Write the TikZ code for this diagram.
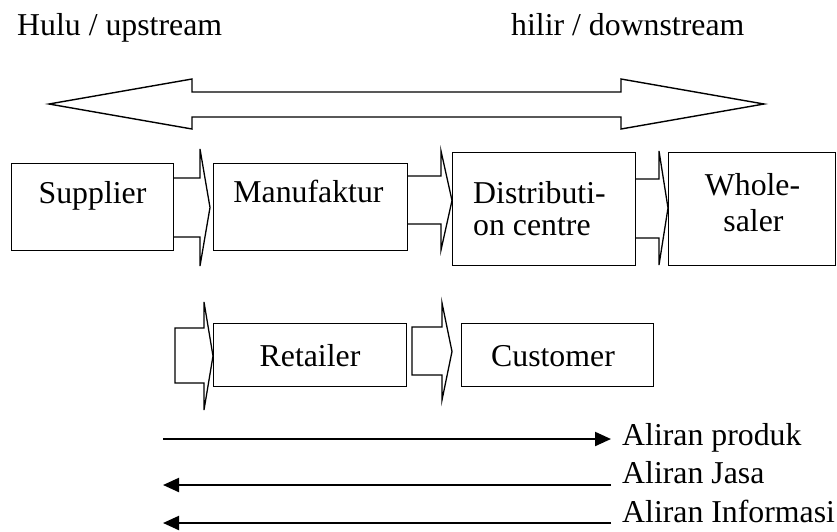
\documentclass[tikz,border=0pt]{standalone}
\usepackage{fontspec}
\setmainfont{Liberation Serif}
\usetikzlibrary{arrows.meta}
\tikzset{
  lbl/.style={inner sep=0pt, font=\fontsize{31.8}{36}\selectfont},
  boxshape/.style={draw, line width=1.3pt, fill=white, inner sep=0pt},
  blockarrow/.style={draw, line width=1.3pt, fill=white, line join=miter},
  flow/.style={line width=2.1pt, -{Triangle[length=16pt,width=14pt]}},
}
\begin{document}
\begin{tikzpicture}[x=1pt,y=-1pt]
\useasboundingbox (0,0) rectangle (837,531);
% headers
\node[lbl, anchor=base west] (hulu) at (17,35) {Hulu / upstream};
\node[lbl, anchor=base west] (hilir) at (511,35) {hilir / downstream};
% big double arrow
\draw[blockarrow, line width=1.4pt] (49,104) -- (192,79) -- (192,92) -- (621,92) -- (621,79) -- (764,104)
  -- (621,129) -- (621,117) -- (192,117) -- (192,129) -- cycle;
% block arrows
\draw[blockarrow] (173,178) -- (200,178) -- (200,149) -- (210,207.5) -- (200,266) -- (200,237) -- (173,237) -- cycle;
\draw[blockarrow] (407,176) -- (441,176) -- (441,151) -- (452,200.5) -- (441,250) -- (441,224) -- (407,224) -- cycle;
\draw[blockarrow] (635,179) -- (659,179) -- (659,151) -- (668,208) -- (659,265) -- (659,238) -- (635,238) -- cycle;
\draw[blockarrow] (175,328) -- (204,328) -- (204,302) -- (213,356) -- (204,410) -- (204,383) -- (175,383) -- cycle;
\draw[blockarrow] (412,327) -- (442,327) -- (442,303) -- (452,351.5) -- (442,400) -- (442,375) -- (412,375) -- cycle;
% boxes
\node[boxshape, anchor=north west, minimum width=162pt, minimum height=87pt] (sup) at (11,163) {};
\node[boxshape, anchor=north west, minimum width=194pt, minimum height=87pt] (manu) at (213,163) {};
\node[boxshape, anchor=north west, minimum width=183pt, minimum height=113pt] (dist) at (452,152) {};
\node[boxshape, anchor=north west, minimum width=167pt, minimum height=113pt] (whole) at (668,152) {};
\node[boxshape, anchor=north west, minimum width=193pt, minimum height=63pt] (ret) at (213,323) {};
\node[boxshape, anchor=north west, minimum width=192pt, minimum height=63pt] (cust) at (461,323) {};
% box texts
\node[lbl, anchor=base] (tsup) at (92.5,203) {Supplier};
\node[lbl, anchor=base] (tmanu) at (308.5,202) {Manufaktur};
\node[lbl, anchor=base west] (tdist1) at (473,203) {Distributi-};
\node[lbl, anchor=base west] (tdist2) at (473,235) {on centre};
\node[lbl, anchor=base] (twhole1) at (752.5,195) {Whole-};
\node[lbl, anchor=base] (twhole2) at (753.5,231) {saler};
\node[lbl, anchor=base] (tret) at (310,366) {Retailer};
\node[lbl, anchor=base] (tcust) at (553,366) {Customer};
% flows
\node[lbl, anchor=base west] (fprod) at (622,445) {Aliran produk};
\node[lbl, anchor=base west] (fjasa) at (622,483) {Aliran Jasa};
\node[lbl, anchor=base west] (finfo) at (622,522) {Aliran Informasi};
\coordinate (p0) at (163,439);
\coordinate (p1) at (611,439);
\coordinate (j0) at (611,485);
\coordinate (j1) at (163,485);
\coordinate (i0) at (611,523);
\coordinate (i1) at (163,523);
\draw[flow] (p0) -- (p1);
\draw[flow] (j0) -- (j1);
\draw[flow] (i0) -- (i1);
\end{tikzpicture}
\end{document}
